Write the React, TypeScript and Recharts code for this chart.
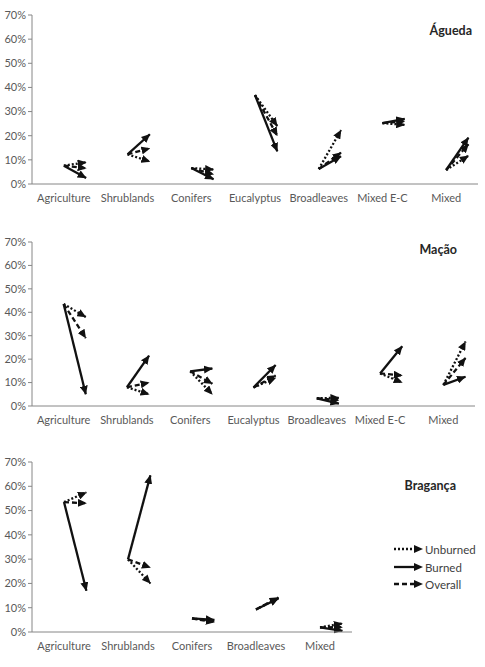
import React from "react";
import { LineChart, Line, XAxis, YAxis } from "recharts";

// Land cover share (%) per region: initial value and three end states
const aguedaCats = ["Agriculture", "Shrublands", "Conifers", "Eucalyptus", "Broadleaves", "Mixed E-C", "Mixed"];
const aguedaInitial = [7.6, 12.3, 6.6, 36.8, 6.2, 25.2, 5.8];
const aguedaUnburned = [9, 9.3, 6, 24, 22.3, 24.5, 11.7];
const aguedaBurned = [2.5, 20.6, 2, 13.5, 11.5, 27, 19.2];
const aguedaOverall = [6.5, 14.8, 4, 20, 13, 26, 16.5];

const macaoCats = ["Agriculture", "Shrublands", "Conifers", "Eucalyptus", "Broadleaves", "Mixed E-C", "Mixed"];
const macaoInitial = [43.5, 8, 14.8, 7.9, 3.3, 13.9, 9];
const macaoUnburned = [38, 5, 5, 12, 3.5, 10, 27.5];
const macaoBurned = [5, 21.5, 16, 17.5, 1, 25.5, 12.5];
const macaoOverall = [29, 10, 9.5, 13, 2.5, 13, 20.5];

const bragancaCats = ["Agriculture", "Shrublands", "Conifers", "Broadleaves", "Mixed"];
const bragancaInitial = [53.5, 29.9, 5.6, 9.3, 1.9];
const bragancaUnburned = [57.5, 20, 4.5, 14, 3.5];
const bragancaBurned = [17, 64.5, 5, 13.8, 0.5];
const bragancaOverall = [53, 26.5, 4, 14.2, 2];

const yTicks = [0, 10, 20, 30, 40, 50, 60, 70];

// horizontal run of each arrow, in category units
const ARROW_DX = 0.35;

const FONT = "Lato, 'Open Sans', sans-serif";
const AXIS_COLOR = "#868686";
const TEXT_COLOR = "#595959";

const SERIES = [
  { name: "Unburned", dash: "2 2" },
  { name: "Overall", dash: "5 3" },
  { name: "Burned", dash: undefined as string | undefined },
];

function ArrowDefs({ id }: { id: string }) {
  return (
    <defs>
      <marker
        id={id}
        viewBox="0 0 9 8"
        refX={8.5}
        refY={4}
        markerWidth={9}
        markerHeight={8}
        markerUnits="userSpaceOnUse"
        orient="auto"
      >
        <path d="M0,0 L9,4 L0,8 z" fill="#111" />
      </marker>
    </defs>
  );
}

type PanelProps = {
  id: string;
  cats: string[];
  initial: number[];
  ends: number[][]; // unburned, overall, burned
  top: number;
  width: number;
  marginTop: number;
  plotHeight: number;
  marginRight: number;
};

function ArrowPanel({ id, cats, initial, ends, top, width, marginTop, plotHeight, marginRight }: PanelProps) {
  const height = marginTop + plotHeight + 30;
  const markerId = `arrow-${id}`;
  return (
    <div style={{ position: "absolute", left: 0, top }}>
      <LineChart
        width={width}
        height={height}
        margin={{ top: marginTop, right: marginRight, left: 0, bottom: 0 }}
      >
        <ArrowDefs id={markerId} />
        <XAxis
          type="number"
          dataKey="x"
          domain={[-0.5, cats.length - 0.5]}
          ticks={cats.map((_, i) => i)}
          tickFormatter={(v: number) => cats[Math.round(v)] ?? ""}
          interval={0}
          axisLine={{ stroke: AXIS_COLOR }}
          tickLine={false}
          height={30}
          tickMargin={4}
          tick={{ fill: TEXT_COLOR, fontSize: 11, fontFamily: FONT }}
        />
        <YAxis
          type="number"
          domain={[0, 70]}
          ticks={yTicks}
          tickFormatter={(v: number) => `${v}%`}
          width={32}
          axisLine={{ stroke: AXIS_COLOR }}
          tickLine={{ stroke: AXIS_COLOR }}
          tickSize={4}
          tick={{ fill: TEXT_COLOR, fontSize: 11, fontFamily: FONT }}
        />
        {SERIES.map((s, si) =>
          cats.map((c, i) => (
            <Line
              key={`${s.name}-${c}`}
              data={[
                { x: i, y: initial[i] },
                { x: i + ARROW_DX, y: ends[si][i] },
              ]}
              dataKey="y"
              stroke="#111"
              strokeWidth={2.3}
              strokeDasharray={s.dash}
              markerEnd={`url(#${markerId})`}
              dot={false}
              activeDot={false}
              isAnimationActive={false}
            />
          ))
        )}
      </LineChart>
    </div>
  );
}

function LegendRow({ y, dash, label }: { y: number; dash?: string; label: string }) {
  return (
    <g>
      <line x1={4} y1={y} x2={26} y2={y} stroke="#111" strokeWidth={2.3} strokeDasharray={dash} />
      <path d={`M24,${y - 4} L33,${y} L24,${y + 4} z`} fill="#111" />
      <text x={35} y={y} dominantBaseline="central" fontSize={11.5} fontFamily={FONT} fill="#404040">
        {label}
      </text>
    </g>
  );
}

export default function App() {
  return (
    <div style={{ position: "absolute", left: 0, top: 0, width: 485, height: 667, background: "#fff" }}>
      <ArrowPanel
        id="agueda"
        cats={aguedaCats}
        initial={aguedaInitial}
        ends={[aguedaUnburned, aguedaOverall, aguedaBurned]}
        top={0}
        width={485}
        marginTop={15}
        plotHeight={169}
        marginRight={7}
      />
      <ArrowPanel
        id="macao"
        cats={macaoCats}
        initial={macaoInitial}
        ends={[macaoUnburned, macaoOverall, macaoBurned]}
        top={226}
        width={485}
        marginTop={16}
        plotHeight={164}
        marginRight={10}
      />
      <ArrowPanel
        id="braganca"
        cats={bragancaCats}
        initial={bragancaInitial}
        ends={[bragancaUnburned, bragancaOverall, bragancaBurned]}
        top={447}
        width={360}
        marginTop={15}
        plotHeight={170}
        marginRight={8}
      />
      <svg
        width={485}
        height={667}
        style={{ position: "absolute", left: 0, top: 0, pointerEvents: "none" }}
      >
        <g fontFamily={FONT} fontWeight="bold" fontSize={12.5} fill="#262626">
          <text x={472} y={30} textAnchor="end" dominantBaseline="central">Águeda</text>
          <text x={457} y={249} textAnchor="end" dominantBaseline="central">Mação</text>
          <text x={456} y={485} textAnchor="end" dominantBaseline="central">Bragança</text>
        </g>
        <g transform="translate(390,538)">
          <LegendRow y={11} dash="2 2" label="Unburned" />
          <LegendRow y={29} label="Burned" />
          <LegendRow y={46} dash="5 3" label="Overall" />
        </g>
      </svg>
    </div>
  );
}
